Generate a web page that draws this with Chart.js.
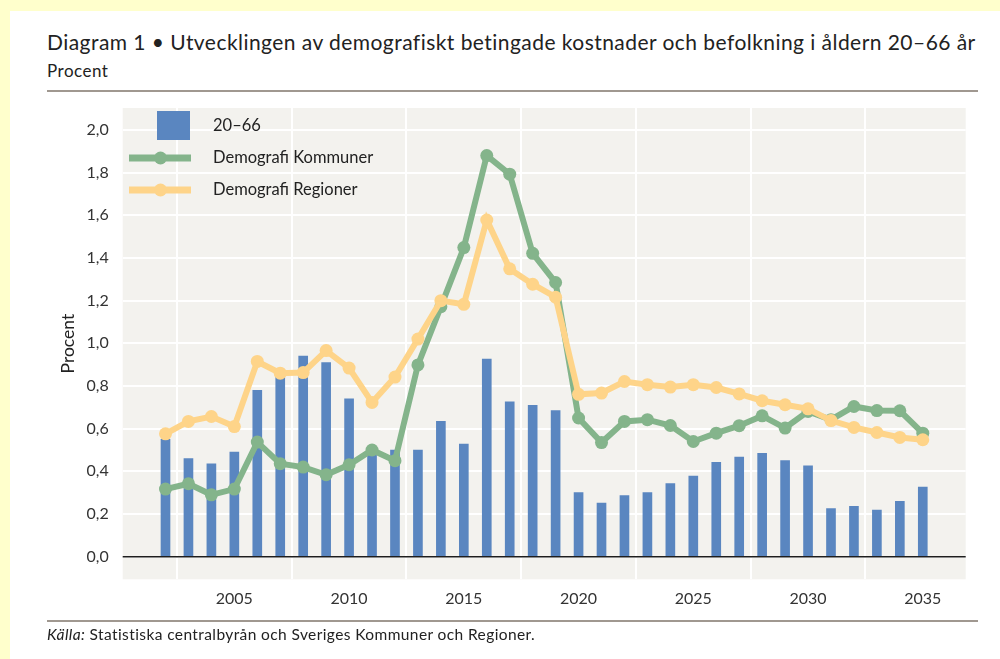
<!DOCTYPE html>
<html>
<head>
<meta charset="utf-8">
<script src="https://cdn.jsdelivr.net/npm/chart.js@4.4.1/dist/chart.umd.min.js"></script>
<style>
  html, body { margin: 0; padding: 0; background: #ffffcc; width: 1000px; height: 659px; overflow: hidden; }
  #panel { position: absolute; left: 10px; top: 11px; width: 990px; height: 648px; background: #ffffff; }
  #chartbox { position: absolute; left: 0; top: 0; width: 1000px; height: 659px; }
  .txt { position: absolute; font-family: Lato, "Open Sans", sans-serif; color: #222; white-space: nowrap; line-height: 1; }
  #title { left: 47px; top: 31px; font-size: 21px; letter-spacing: 0.45px; }
  #subtitle { left: 47px; top: 62px; font-size: 17px; letter-spacing: 0.5px; }
  #source { left: 47px; top: 627px; font-size: 15.5px; letter-spacing: 0.4px; }
  .rule { position: absolute; left: 47px; width: 931px; height: 2px; background: #a09890; }
</style>
</head>
<body>
<div id="panel"></div>
<div class="txt" id="title"></div>
<div class="txt" id="subtitle"></div>
<div class="rule" style="top:90px"></div>
<div id="chartbox"><canvas id="c" width="1000" height="659"></canvas></div>
<div class="rule" style="top:620px"></div>
<div class="txt" id="source"></div>
<script>
// ---- data ----
const years = [2002, 2003, 2004, 2005, 2006, 2007, 2008, 2009, 2010, 2011, 2012, 2013, 2014, 2015, 2016, 2017, 2018,
               2019, 2020, 2021, 2022, 2023, 2024, 2025, 2026, 2027, 2028, 2029, 2030, 2031, 2032, 2033, 2034, 2035];
const pop2066 = [0.55, 0.46, 0.435, 0.49, 0.78, 0.845, 0.94, 0.91, 0.74, 0.50, 0.50, 0.50, 0.634, 0.528, 0.926, 0.726, 0.709,
                 0.685, 0.30, 0.251, 0.286, 0.301, 0.343, 0.378, 0.442, 0.467, 0.484, 0.451, 0.426, 0.226, 0.236, 0.219, 0.259, 0.326];
const kommuner = [0.317, 0.342, 0.29, 0.317, 0.537, 0.436, 0.42, 0.384, 0.431, 0.50, 0.45, 0.899, 1.172, 1.449, 1.88, 1.793, 1.422,
                  1.285, 0.65, 0.535, 0.634, 0.642, 0.615, 0.54, 0.579, 0.614, 0.66, 0.603, 0.681, 0.642, 0.704, 0.685, 0.684, 0.579];
const regioner = [0.576, 0.634, 0.657, 0.61, 0.915, 0.86, 0.863, 0.966, 0.884, 0.723, 0.842, 1.02, 1.20, 1.183, 1.578, 1.349, 1.277,
                  1.216, 0.761, 0.767, 0.821, 0.806, 0.795, 0.806, 0.793, 0.763, 0.731, 0.712, 0.693, 0.638, 0.606, 0.582, 0.559, 0.548];
const yTicks = [0, 0.2, 0.4, 0.6, 0.8, 1.0, 1.2, 1.4, 1.6, 1.8, 2.0];
const xTicks = [2005, 2010, 2015, 2020, 2025, 2030, 2035];
const seriesLabels = ['20–66', 'Demografi Kommuner', 'Demografi Regioner'];
const titleText = 'Diagram 1 • Utvecklingen av demografiskt betingade kostnader och befolkning i åldern 20–66 år';
const subtitleText = 'Procent';
const yAxisTitle = 'Procent';
const sourceLabel = 'Källa:';
const sourceText = ' Statistiska centralbyrån och Sveriges Kommuner och Regioner.';

document.getElementById('title').textContent = titleText;
document.getElementById('subtitle').textContent = subtitleText;
const src = document.getElementById('source');
const em = document.createElement('i'); em.textContent = sourceLabel;
src.appendChild(em); src.appendChild(document.createTextNode(sourceText));

const BLUE = '#5a86c0', GREEN = '#84b48b', YELLOW = '#fed489';
const FONT = 'Lato, "Open Sans", sans-serif';

const pts = arr => years.map((y, i) => ({ x: y, y: arr[i] }));

const bgPlugin = {
  id: 'plotBg',
  beforeDraw(chart) {
    const { ctx, chartArea: a } = chart;
    ctx.save();
    ctx.fillStyle = '#f3f2ee';
    ctx.fillRect(a.left, a.top, a.right - a.left, a.bottom - a.top);
    ctx.restore();
  },
  beforeDatasetsDraw(chart) {
    const { ctx, chartArea: a, scales } = chart;
    const y0 = scales.y.getPixelForValue(0);
    ctx.save();
    ctx.strokeStyle = '#1e1e1e';
    ctx.lineWidth = 1.6;
    ctx.beginPath(); ctx.moveTo(a.left, y0); ctx.lineTo(a.right, y0); ctx.stroke();
    ctx.restore();
  }
};

const legendPlugin = {
  id: 'customLegend',
  afterDatasetsDraw(chart) {
    const { ctx } = chart;
    const ds = chart.data.datasets;
    ctx.save();
    ctx.font = '16.5px ' + FONT;
    ctx.textBaseline = 'middle';
    // bar item
    ctx.fillStyle = ds[0].backgroundColor;
    ctx.fillRect(157, 111, 33, 29);
    ctx.fillStyle = '#222';
    ctx.fillText(ds[0].label, 213, 126);
    // line items
    const rows = [[ds[1], 158], [ds[2], 190]];
    rows.forEach(([d, y]) => {
      ctx.strokeStyle = d.borderColor;
      ctx.lineWidth = 7;
      ctx.beginPath(); ctx.moveTo(129, y); ctx.lineTo(191, y); ctx.stroke();
      ctx.fillStyle = d.borderColor;
      ctx.beginPath(); ctx.arc(160.5, y, 6.5, 0, Math.PI * 2); ctx.fill();
      ctx.fillStyle = '#222';
      ctx.fillText(d.label, 213, y);
    });
    ctx.restore();
  }
};

new Chart(document.getElementById('c'), {
  type: 'bar',
  data: {
    datasets: [
      { type: 'bar', label: seriesLabels[0], data: pts(pop2066), backgroundColor: BLUE, borderWidth: 0, barThickness: 9, order: 2 },
      { type: 'line', label: seriesLabels[1], data: pts(kommuner), borderColor: GREEN, backgroundColor: GREEN, borderWidth: 6,
        pointRadius: 6.5, pointBorderWidth: 0, pointBackgroundColor: GREEN, tension: 0, order: 1 },
      { type: 'line', label: seriesLabels[2], data: pts(regioner), borderColor: YELLOW, backgroundColor: YELLOW, borderWidth: 6,
        pointRadius: 6.5, pointBorderWidth: 0, pointBackgroundColor: YELLOW, tension: 0, order: 0 }
    ]
  },
  options: {
    responsive: false,
    maintainAspectRatio: false,
    devicePixelRatio: 1,
    animation: false,
    layout: { padding: { top: 108, right: 34.3, bottom: 39.7, left: 42.7 } },
    plugins: { legend: { display: false }, tooltip: { enabled: false }, title: { display: false } },
    scales: {
      x: {
        type: 'linear', min: 2000.135, max: 2036.87, offset: false,
        afterBuildTicks: s => { s.ticks = xTicks.map(v => ({ value: v })); },
        afterFit: s => { s.height = 40; },
        grid: { color: '#ffffff', lineWidth: 2, drawTicks: false },
        border: { display: false },
        ticks: { font: { family: FONT, size: 16 }, color: '#333', padding: 10, maxRotation: 0, callback: v => String(v) }
      },
      y: {
        type: 'linear', min: -0.106, max: 2.103,
        afterBuildTicks: s => { s.ticks = yTicks.map(v => ({ value: v })); },
        afterFit: s => { s.width = 80; },
        grid: { color: '#ffffff', lineWidth: 2, drawTicks: false },
        border: { display: false },
        ticks: { font: { family: FONT, size: 16 }, color: '#333', padding: 14, callback: v => v.toFixed(1).replace('.', ',') },
        title: { display: true, text: yAxisTitle, font: { family: FONT, size: 17.5 }, color: '#222', padding: { top: 14.7, bottom: 0 } }
      }
    }
  },
  plugins: [bgPlugin, legendPlugin]
});
</script>
</body>
</html>
